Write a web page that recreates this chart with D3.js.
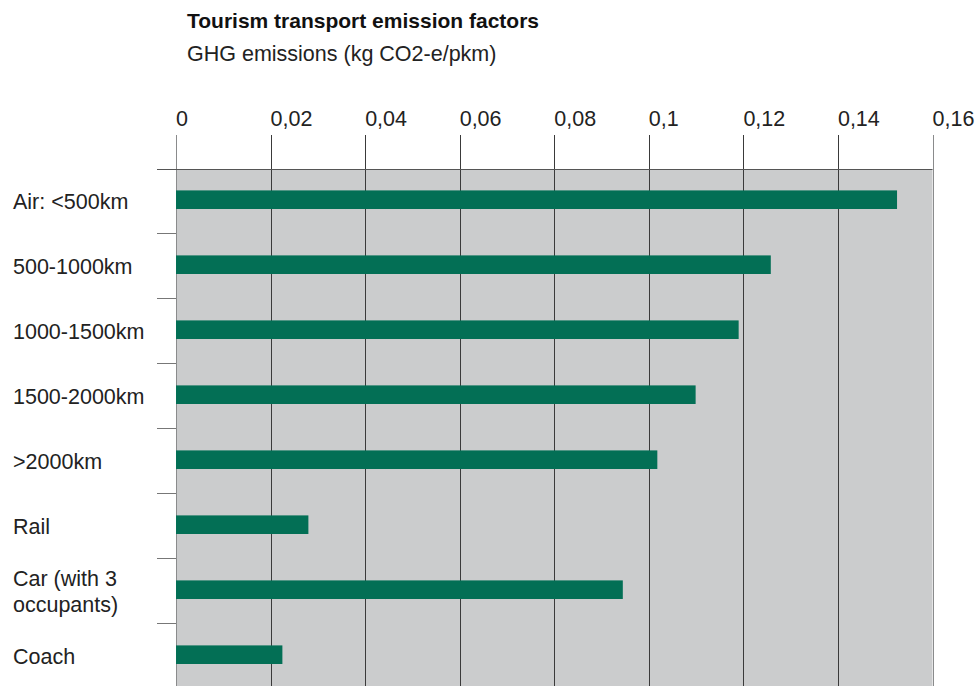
<!DOCTYPE html>
<html>
<head>
<meta charset="utf-8">
<script src="https://cdn.jsdelivr.net/npm/d3@7"></script>
<style>
  html, body { margin: 0; padding: 0; background: #fff; }
  svg { display: block; font-family: "Liberation Sans", Arial, Helvetica, sans-serif; }
</style>
</head>
<body>
<svg id="chart" width="976" height="686"></svg>
<script>
const categories = ["Air: <500km", "500-1000km", "1000-1500km", "1500-2000km", ">2000km", "Rail", "Car (with 3\noccupants)", "Coach"];
const values = [0.1525, 0.1258, 0.119, 0.1099, 0.1018, 0.028, 0.0945, 0.0225];
const tickValues = [0, 0.02, 0.04, 0.06, 0.08, 0.1, 0.12, 0.14, 0.16];
const tickLabels = ["0", "0,02", "0,04", "0,06", "0,08", "0,1", "0,12", "0,14", "0,16"];
const titleText = "Tourism transport emission factors";
const subtitleText = "GHG emissions (kg CO2-e/pkm)";

const svg = d3.select("#chart");
const plotLeft = 176, plotRight = 932.5, plotTop = 169, bandH = 65;
const plotBottom = plotTop + bandH * categories.length;
const fs = 21.5;

const x = d3.scaleLinear().domain([0, 0.16]).range([plotLeft, plotRight]);
const y = d3.scaleBand().domain(categories).range([plotTop, plotBottom]).paddingInner(0).paddingOuter(0);

// title
svg.append("text").attr("x", 187).attr("y", 28).attr("font-size", 21).attr("font-weight", "bold").attr("fill", "#111").text(titleText);
svg.append("text").attr("x", 187).attr("y", 61).attr("font-size", fs).attr("fill", "#222").text(subtitleText);

// plot background
svg.append("rect").attr("x", plotLeft).attr("y", plotTop).attr("width", plotRight - plotLeft).attr("height", plotBottom - plotTop).attr("fill", "#cbcccd");

// grid lines (extend above the plot)
svg.append("g").selectAll("line").data(tickValues).join("line")
  .attr("x1", d => Math.round(x(d)) + 0.5).attr("x2", d => Math.round(x(d)) + 0.5)
  .attr("y1", 135).attr("y2", plotBottom)
  .attr("stroke", (d, i) => (i === 0 || i === tickValues.length - 1) ? "#8a8b8c" : "#3a3a3a").attr("stroke-width", 1);

// top axis labels
svg.append("g").selectAll("text").data(tickValues).join("text")
  .attr("x", d => x(d)).attr("y", 126)
  .attr("font-size", fs).attr("fill", "#222")
  .text((d, i) => tickLabels[i]);

// top line
svg.append("line").attr("x1", 157).attr("x2", plotRight).attr("y1", plotTop + 0.5).attr("y2", plotTop + 0.5).attr("stroke", "#555").attr("stroke-width", 1);

// category boundary ticks on left
svg.append("g").selectAll("line").data(categories.slice(1)).join("line")
  .attr("x1", 157).attr("x2", plotLeft)
  .attr("y1", d => Math.round(y(d)) - 0.5).attr("y2", d => Math.round(y(d)) - 0.5)
  .attr("stroke", "#777").attr("stroke-width", 1);

// bars
const barH = 18.6;
svg.append("g").selectAll("rect").data(categories).join("rect")
  .attr("x", x(0))
  .attr("y", d => y(d) + y.bandwidth() / 2 - barH / 2 - 1.8)
  .attr("width", (d, i) => x(values[i]) - x(0))
  .attr("height", barH)
  .attr("fill", "#036f55");

// category labels
const lab = svg.append("g").selectAll("text").data(categories).join("text")
  .attr("x", 13)
  .attr("font-size", fs).attr("fill", "#222")
  .attr("y", d => {
    const lines = d.split("\n").length;
    return y(d) + y.bandwidth() / 2 + 7.5 - (lines - 1) * 13.5;
  });
lab.each(function(d) {
  const t = d3.select(this);
  d.split("\n").forEach((s, i) => {
    t.append("tspan").attr("x", 13).attr("dy", i === 0 ? 0 : 26.5).text(s);
  });
});
</script>
</body>
</html>
